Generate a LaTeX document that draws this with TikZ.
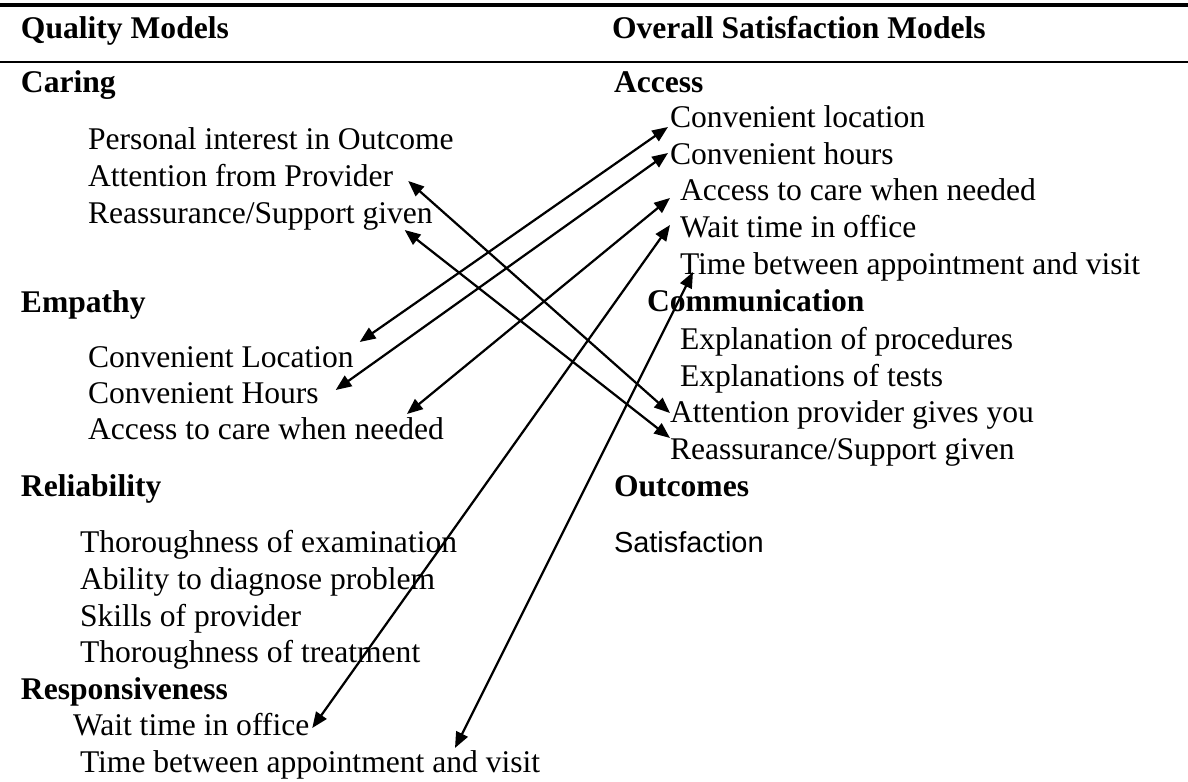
\documentclass[tikz,border=0pt]{standalone}
\usepackage{fontspec}
\setmainfont{Liberation Serif}
\newfontfamily\satfont{Liberation Sans}
\usepackage{tikz}
\usetikzlibrary{arrows.meta}
\tikzstyle{entry}=[anchor=base west, inner sep=0pt, outer sep=0pt, font=\fontsize{12}{14}\selectfont]
\tikzstyle{heading}=[entry, font=\fontsize{12}{14}\selectfont\bfseries]
\tikzstyle{link}=[line width=0.85pt, >={Triangle[length=6pt,width=4.8pt]}, <->]

\begin{document}
\begin{tikzpicture}[x=0.38pt, y=-0.38pt]
 \useasboundingbox (0,0) rectangle (1188,782);
 \draw[line width=1.7pt] (0,5) -- (1188,5);
 \draw[line width=1.1pt] (0,62) -- (1188,62);
%
 \node[heading] (qmod) at (21,39) {Quality Models};
 \node[heading] (omod) at (612,39) {Overall Satisfaction Models};
%
 \node[heading] (caring) at (21,93) {Caring};
 \node[entry] (lpers) at (88,150) {Personal interest in Outcome};
 \node[entry] (latt) at (88,187) {Attention from Provider};
 \node[entry] (lreas) at (88,224) {Reassurance/Support given};
 \node[heading] (empathy) at (21,313) {Empathy};
 \node[entry] (lloc) at (88,368) {Convenient Location};
 \node[entry] (lhrs) at (88,404) {Convenient Hours};
 \node[entry] (lacc) at (88,440) {Access to care when needed};
 \node[heading] (reliab) at (21,497) {Reliability};
 \node[entry] (lexam) at (80,553) {Thoroughness of examination};
 \node[entry] (ldiag) at (80,590) {Ability to diagnose problem};
 \node[entry] (lskill) at (80,627) {Skills of provider};
 \node[entry] (ltreat) at (80,663) {Thoroughness of treatment};
 \node[heading] (respons) at (21,700) {Responsiveness};
 \node[entry] (lwait) at (73,736) {Wait time in office};
 \node[entry] (ltime) at (80,773) {Time between appointment and visit};
%
 \node[heading] (access) at (614,93) {Access};
 \node[entry] (rloc) at (670,128) {Convenient location};
 \node[entry] (rhrs) at (670,165) {Convenient hours};
 \node[entry] (racc) at (680,201) {Access to care when needed};
 \node[entry] (rwait) at (680,238) {Wait time in office};
 \node[entry] (rtime) at (680,275) {Time between appointment and visit};
 \node[heading] (comm) at (647,312) {Communication};
 \node[entry] (rproc) at (680,350) {Explanation of procedures};
 \node[entry] (rtest) at (680,387) {Explanations of tests};
 \node[entry] (ratt) at (670,423) {Attention provider gives you};
 \node[entry] (rreas) at (670,460) {Reassurance/Support given};
 \node[heading] (outc) at (614,497) {Outcomes};
 \node[entry, font=\satfont\fontsize{11}{13}\selectfont] (rsat) at (614,553) {Satisfaction};
%
 \draw[link] ([shift={(15,-6)}]latt.base east) -- ([shift={(0,-10)}]ratt.base west);
 \draw[link] ([shift={(-28,6)}]lreas.base east) -- ([shift={(0,-22)}]rreas.base west);
 \draw[link] ([shift={(6,-26)}]lloc.base east) -- ([shift={(-2,-1)}]rloc.base west);
 \draw[link] ([shift={(17,-14)}]lhrs.base east) -- ([shift={(-2,-12)}]rhrs.base west);
 \draw[link] ([shift={(-37,-26)}]lacc.base east) -- ([shift={(-10,-3)}]racc.base west);
 \draw[link] ([shift={(3,-8)}]lwait.base east) -- ([shift={(-10,-13)}]rwait.base west);
 \draw[link] ([shift={(375,-25)}]ltime.base west) -- ([shift={(13,-3)}]rtime.base west);
\end{tikzpicture}
\end{document}
